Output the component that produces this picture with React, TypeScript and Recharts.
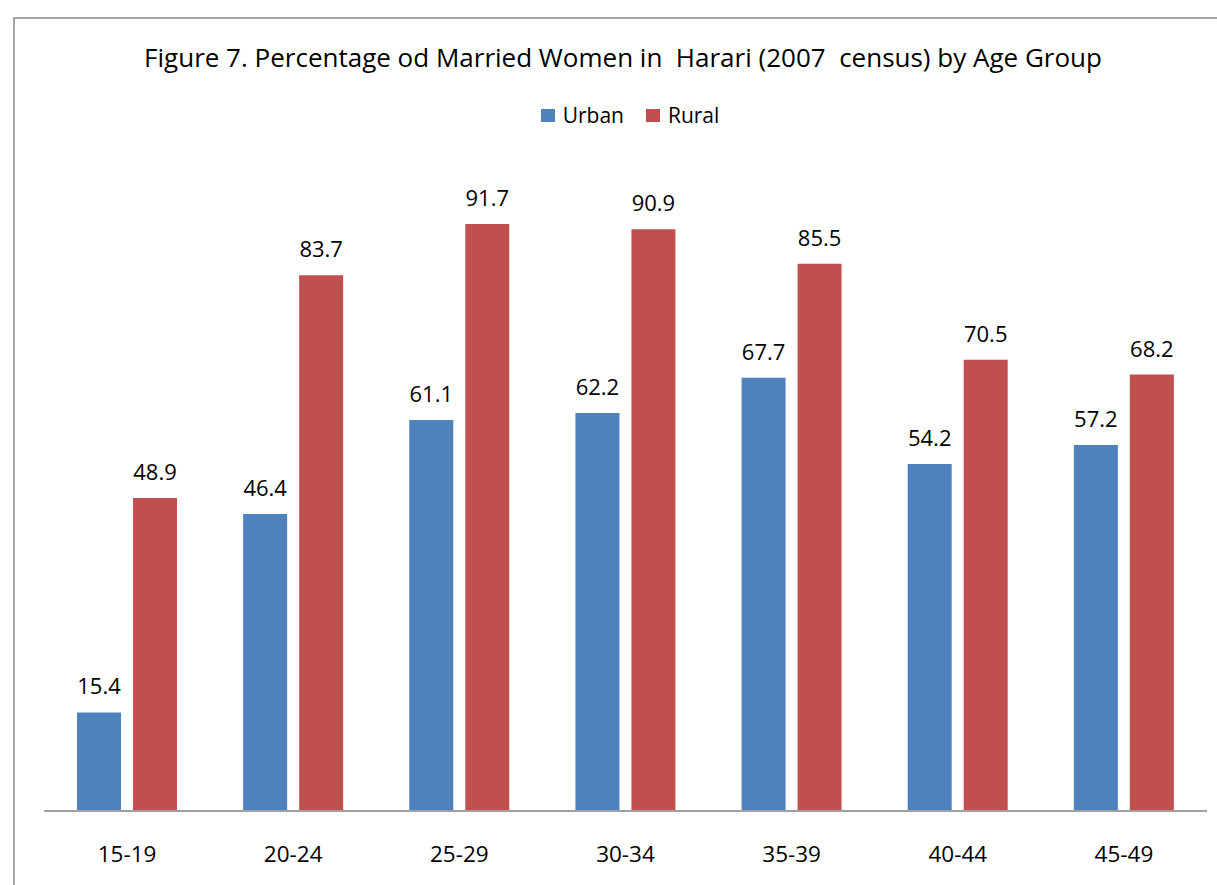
import React from "react";
import { BarChart, Bar, XAxis, YAxis, LabelList } from "recharts";

const ageGroups = ["15-19", "20-24", "25-29", "30-34", "35-39", "40-44", "45-49"];
const urbanValues = [15.4, 46.4, 61.1, 62.2, 67.7, 54.2, 57.2];
const ruralValues = [48.9, 83.7, 91.7, 90.9, 85.5, 70.5, 68.2];
const seriesNames = ["Urban", "Rural"];
const seriesColors = ["#4F81BD", "#C0504D"];
const titleText = "Figure 7. Percentage od Married Women in  Harari (2007  census) by Age Group";

const data = ageGroups.map((g, i) => ({ group: g, Urban: urbanValues[i], Rural: ruralValues[i] }));

const FONT = "'Open Sans', 'Noto Sans', sans-serif";

export default function App() {
  return (
    <div style={{ position: "absolute", left: 0, top: 0, width: 1217, height: 885, overflow: "hidden", background: "#fff", fontFamily: FONT }}>
      <div style={{ position: "absolute", left: 13, top: 17, width: 1400, height: 1100, border: "2px solid #a6a6a6", boxSizing: "border-box" }} />
      <div style={{ position: "absolute", left: 0, top: 39, width: 1246, textAlign: "center", fontSize: 26, whiteSpace: "pre", color: "#000" }}>
        {titleText}
      </div>
      <div style={{ position: "absolute", left: 0, top: 101, width: 1260, display: "flex", justifyContent: "center", alignItems: "center", fontSize: 21, color: "#000" }}>
        {seriesNames.map((n, i) => (
          <div key={n} style={{ display: "flex", alignItems: "center", marginRight: i === 0 ? 22 : 0 }}>
            <div style={{ width: 14, height: 13, background: seriesColors[i], marginRight: 8 }} />
            <span>{n}</span>
          </div>
        ))}
      </div>
      <div style={{ position: "absolute", left: 0, top: 0 }}>
        <BarChart
          width={1217}
          height={885}
          data={data}
          margin={{ top: 171, right: 10, bottom: 14, left: 44 }}
          barSize={44}
          barGap={12}
        >
          <XAxis
            dataKey="group"
            axisLine={{ stroke: "#a0a0a0", strokeWidth: 2 }}
            tickLine={false}
            tickSize={0}
            tickMargin={35}
            height={60}
            tick={{ fill: "#000", fontSize: 22.5, fontFamily: FONT }}
          />
          <YAxis hide domain={[0, 100]} />
          <Bar dataKey={seriesNames[0]} fill={seriesColors[0]} isAnimationActive={false}>
            <LabelList dataKey={seriesNames[0]} position="top" offset={18} style={{ fill: "#000", fontSize: 22, fontFamily: FONT }} />
          </Bar>
          <Bar dataKey={seriesNames[1]} fill={seriesColors[1]} isAnimationActive={false}>
            <LabelList dataKey={seriesNames[1]} position="top" offset={18} style={{ fill: "#000", fontSize: 22, fontFamily: FONT }} />
          </Bar>
        </BarChart>
      </div>
    </div>
  );
}
